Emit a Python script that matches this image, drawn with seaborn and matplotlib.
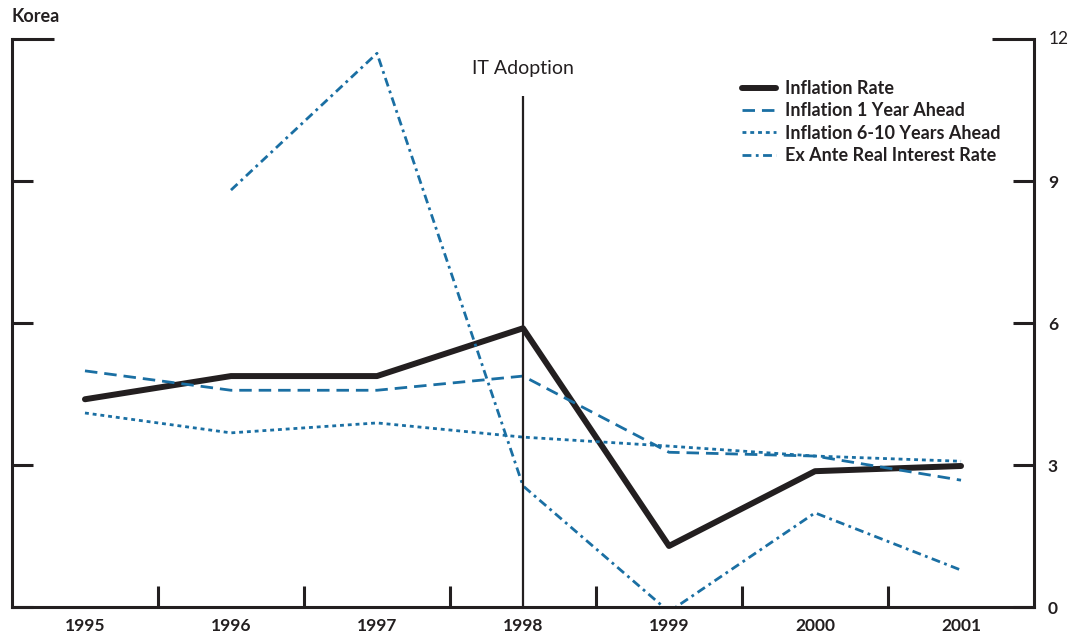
import matplotlib
matplotlib.use("Agg")
import matplotlib.pyplot as plt
import numpy as np
import pandas as pd
import seaborn as sns
from matplotlib.ticker import FixedLocator, NullFormatter

# Data (percent)
years = [1995, 1996, 1997, 1998, 1999, 2000, 2001]
inflation_rate = [4.39, 4.88, 4.88, 5.89, 1.29, 2.87, 2.98]
inflation_1yr = [4.99, 4.58, 4.58, 4.88, 3.27, 3.19, 2.68]
inflation_6_10yr = [4.10, 3.68, 3.89, 3.59, 3.40, 3.19, 3.08]
ex_ante_real_rate = [np.nan, 8.81, 11.70, 2.56, -0.10, 1.99, 0.78]

y_ticks = [0, 3, 6, 9]
x_minor = [1995.5, 1996.5, 1997.5, 1998.5, 1999.5, 2000.5]
it_year = 1998

BLACK = "#231f20"
BLUE = "#1a6fa3"

sns.set_theme(style="white")
plt.rcParams["font.family"] = ["Lato", "DejaVu Sans"]

df = pd.DataFrame({
    "Year": years,
    "Inflation Rate": inflation_rate,
    "Inflation 1 Year Ahead": inflation_1yr,
    "Inflation 6-10 Years Ahead": inflation_6_10yr,
    "Ex Ante Real Interest Rate": ex_ante_real_rate,
})

fig = plt.figure(figsize=(10.68, 6.41), dpi=100)
ax = fig.add_axes([0.0112, 0.053, 0.9570, 0.886])

styles = {
    "Inflation Rate": dict(color=BLACK, linewidth=4.3, linestyle="-"),
    "Inflation 1 Year Ahead": dict(color=BLUE, linewidth=2.0, linestyle=(0, (4.5, 2.5))),
    "Inflation 6-10 Years Ahead": dict(color=BLUE, linewidth=2.0, linestyle=(0, (1.4, 1.4))),
    "Ex Ante Real Interest Rate": dict(color=BLUE, linewidth=2.0, linestyle=(0, (3.2, 1.6, 1.0, 1.6))),
}
for name, kw in styles.items():
    sns.lineplot(data=df, x="Year", y=name, ax=ax, label=name, estimator=None, **kw)

# IT adoption marker
ax.vlines(it_year, 0, 10.8, color=BLACK, linewidth=1.6)
ax.text(it_year, 11.2, "IT Adoption", ha="center", va="bottom", fontsize=14, color=BLACK)

ax.set_xlim(1994.5, 2001.5)
ax.set_ylim(0, 12)
ax.set_xlabel("")
ax.set_ylabel("")

for side in ["left", "right", "bottom"]:
    ax.spines[side].set_visible(True)
    ax.spines[side].set_color(BLACK)
    ax.spines[side].set_linewidth(2.2)
ax.spines["top"].set_visible(False)

# x axis: year labels without ticks, half-year ticks inward
ax.set_xticks(years)
ax.set_xticklabels([str(y) for y in years], fontsize=12.5, fontweight="bold", color=BLACK)
ax.xaxis.set_minor_locator(FixedLocator(x_minor))
ax.tick_params(axis="x", which="major", length=0, pad=8)
ax.tick_params(axis="x", which="minor", direction="in", length=15, width=2.2,
               color=BLACK, bottom=True)

# y axis: ticks inside on both sides, labels on the right only
ax.set_yticks(y_ticks)
ax.yaxis.set_minor_locator(FixedLocator([12]))
ax.yaxis.set_minor_formatter(NullFormatter())
ax.tick_params(axis="y", which="major", direction="in", length=15, width=2.2, color=BLACK,
               left=True, right=True, labelleft=False, labelright=True,
               labelsize=12.5, labelcolor=BLACK, pad=10)
ax.tick_params(axis="y", which="minor", direction="in", length=30, width=2.2, color=BLACK,
               left=True, right=True)
# label for 12 at the top
ax.text(1.014, 1.0, "12", transform=ax.transAxes, ha="left", va="center",
        fontsize=12.5, color=BLACK)
for lbl in ax.get_yticklabels():
    lbl.set_fontweight("bold")

leg = ax.legend(loc="upper left", bbox_to_anchor=(0.707, 0.941), frameon=False,
                fontsize=13, handlelength=1.9, labelspacing=0.3, handletextpad=0.5,
                borderaxespad=0)
for t in leg.get_texts():
    t.set_color(BLACK)
    t.set_fontweight("bold")

fig.text(0.011, 0.975, "Korea", ha="left", va="center", fontsize=13,
         fontweight="bold", color=BLACK)

fig.savefig("out.png", dpi=100)
